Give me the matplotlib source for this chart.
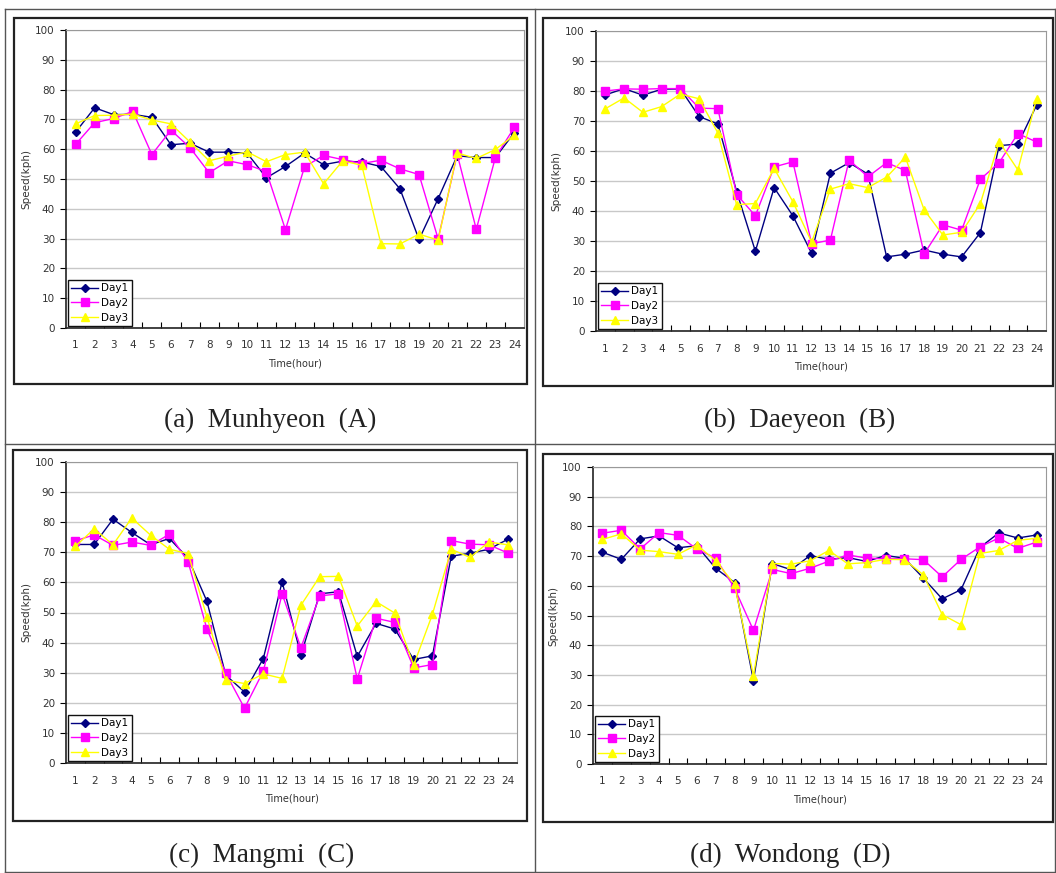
import matplotlib.pyplot as plt
from matplotlib.patches import Rectangle
from matplotlib.lines import Line2D

hours = [1, 2, 3, 4, 5, 6, 7, 8, 9, 10, 11, 12,
         13, 14, 15, 16, 17, 18, 19, 20, 21, 22, 23, 24]
day_labels = ["Day1", "Day2", "Day3"]

# (a) Munhyeon
munhyeon_day1 = [65.7, 73.9, 71.6, 71.7, 70.7, 61.5, 62.0, 59.0, 59.0, 58.6, 50.4, 54.2,
                 58.7, 54.8, 56.0, 55.7, 54.2, 46.7, 29.7, 43.4, 57.8, 57.2, 57.2, 65.6]
munhyeon_day2 = [61.6, 68.9, 70.3, 72.7, 58.2, 66.4, 60.5, 52.1, 56.1, 54.8, 52.5, 33.0,
                 54.1, 57.9, 56.5, 55.2, 56.3, 53.4, 51.5, 29.9, 58.3, 33.1, 57.2, 67.4]
munhyeon_day3 = [68.5, 71.3, 71.4, 71.8, 69.8, 68.5, 62.4, 56.1, 57.7, 59.1, 55.8, 58.2,
                 59.0, 48.4, 56.1, 54.6, 28.3, 28.2, 31.5, 29.5, 58.7, 56.9, 59.9, 64.7]

# (b) Daeyeon
daeyeon_day1 = [78.7, 80.8, 78.6, 80.6, 80.7, 71.5, 69.0, 46.5, 26.6, 47.8, 38.4, 25.9,
                52.6, 56.1, 52.3, 24.7, 25.6, 27.0, 25.6, 24.7, 32.8, 61.8, 62.3, 75.3]
daeyeon_day2 = [80.0, 80.7, 80.6, 80.8, 80.8, 74.3, 74.1, 45.5, 38.4, 54.7, 56.4, 29.1,
                30.3, 57.0, 51.4, 56.1, 53.5, 25.7, 35.4, 33.6, 50.6, 56.1, 65.8, 63.0]
daeyeon_day3 = [74.1, 77.7, 72.9, 74.8, 79.0, 77.4, 66.0, 42.1, 42.5, 54.2, 43.1, 29.6,
                47.3, 49.1, 47.8, 51.3, 57.9, 40.4, 32.0, 32.9, 42.5, 63.1, 53.7, 77.5]

# (c) Mangmi
mangmi_day1 = [72.6, 72.6, 81.0, 76.6, 72.5, 74.6, 68.0, 53.7, 29.2, 23.6, 34.7, 60.2,
               35.8, 56.2, 56.9, 35.4, 46.4, 44.5, 34.4, 35.6, 68.7, 69.7, 71.0, 74.3]
mangmi_day2 = [73.8, 75.8, 72.3, 73.4, 72.3, 76.0, 66.8, 44.5, 29.9, 18.2, 30.5, 56.2,
               38.3, 55.5, 56.2, 27.9, 48.1, 46.7, 31.6, 32.7, 73.9, 72.7, 72.5, 69.8]
mangmi_day3 = [72.0, 77.8, 72.5, 81.4, 75.7, 71.0, 69.6, 48.5, 27.5, 26.4, 29.6, 28.1,
               52.4, 61.9, 62.0, 45.5, 53.6, 49.8, 32.5, 49.4, 71.0, 68.3, 73.4, 72.5]

# (d) Wondong
wondong_day1 = [71.3, 68.9, 75.8, 76.8, 72.8, 73.5, 65.9, 61.1, 28.1, 67.5, 65.4, 70.2,
                68.9, 69.5, 68.2, 70.2, 69.3, 62.6, 55.6, 58.7, 72.9, 77.8, 76.1, 77.1]
wondong_day2 = [77.7, 78.7, 72.4, 77.9, 77.0, 72.4, 69.3, 59.2, 45.0, 65.5, 64.1, 65.9,
                68.3, 70.4, 69.3, 69.1, 69.1, 68.8, 63.0, 68.9, 73.1, 76.1, 72.6, 74.7]
wondong_day3 = [75.6, 77.5, 72.0, 71.5, 70.6, 73.8, 68.4, 60.5, 29.7, 67.5, 67.3, 68.4,
                71.9, 67.4, 67.8, 68.9, 68.8, 63.7, 50.3, 46.9, 70.9, 71.9, 75.3, 76.0]

captions = ["(a)  Munhyeon  (A)", "(b)  Daeyeon  (B)", "(c)  Mangmi  (C)", "(d)  Wondong  (D)"]

W, H = 1056, 873
SANS = ["Liberation Sans Narrow", "DejaVu Sans"]
SERIF = ["Liberation Serif", "DejaVu Serif"]

styles = [
    dict(color="#000080", marker="D", ms=4.5),
    dict(color="#FF00FF", marker="s", ms=6),
    dict(color="#FFFF00", marker="^", ms=6),
]


def fig_rect(l, t, r, b):
    return [l / W, 1 - b / H, (r - l) / W, (b - t) / H]


fig = plt.figure(figsize=(W / 100, H / 100), dpi=100)

# table grid
for x0, y0, x1, y1 in [(5, 9, 1055, 9), (5, 872, 1055, 872), (5, 9, 5, 872),
                       (1055, 9, 1055, 872), (535, 9, 535, 872), (5, 444, 1055, 444)]:
    fig.add_artist(Line2D([x0 / W, x1 / W], [1 - y0 / H, 1 - y1 / H],
                          color="#555555", lw=1.0))

panels = [
    dict(box=(14, 18, 527, 384), ax=(66, 30, 524, 328), cap=(270, 420),
         data=(munhyeon_day1, munhyeon_day2, munhyeon_day3)),
    dict(box=(543, 18, 1053, 386), ax=(596, 31, 1046, 331), cap=(800, 420),
         data=(daeyeon_day1, daeyeon_day2, daeyeon_day3)),
    dict(box=(13, 450, 527, 821), ax=(66, 462, 517, 763), cap=(262, 855),
         data=(mangmi_day1, mangmi_day2, mangmi_day3)),
    dict(box=(543, 454, 1053, 822), ax=(593, 467, 1046, 764), cap=(790, 855),
         data=(wondong_day1, wondong_day2, wondong_day3)),
]

for p, caption in zip(panels, captions):
    l, t, r, b = p["box"]
    fig.add_artist(Rectangle((l / W, 1 - b / H), (r - l) / W, (b - t) / H,
                             transform=fig.transFigure, fill=False,
                             edgecolor="#222222", lw=1.6))

    ax = fig.add_axes(fig_rect(*p["ax"]))
    for series, label, st in zip(p["data"], day_labels, styles):
        ax.plot(hours, series, lw=1.0, color=st["color"], marker=st["marker"],
                ms=st["ms"], mec=st["color"], mfc=st["color"], label=label)

    ax.set_xlim(0.5, 24.5)
    ax.set_ylim(0, 100)
    ax.set_yticks(range(0, 101, 10))
    ax.set_xticks(hours)
    ax.set_xticks([h + 0.5 for h in hours[:-1]], minor=True)
    ax.tick_params(axis="x", which="major", length=0, pad=9, labelsize=7.5)
    ax.tick_params(axis="x", which="minor", direction="in", length=4, width=0.8)
    ax.tick_params(axis="y", direction="out", length=4, width=0.8, pad=4, labelsize=7.5)
    for lab in ax.get_xticklabels() + ax.get_yticklabels():
        lab.set_family(SANS)
        lab.set_color("#333333")
    ax.grid(axis="y", color="#c8c8c8", lw=1.0)
    ax.set_axisbelow(True)
    ax.spines["left"].set_color("#222222")
    ax.spines["bottom"].set_color("#222222")
    ax.spines["left"].set_linewidth(1.2)
    ax.spines["bottom"].set_linewidth(1.2)
    ax.spines["top"].set_color("#999999")
    ax.spines["right"].set_color("#999999")

    ax.set_xlabel("Time(hour)", fontsize=7, family=SANS, labelpad=6, color="#333333")
    ax.set_ylabel("Speed(kph)", fontsize=7.5, family=SANS, labelpad=3, color="#333333")

    leg = ax.legend(loc="lower left", borderaxespad=0.15, fancybox=False,
                    framealpha=1, edgecolor="#111111", handlelength=2.6,
                    handletextpad=0.3, borderpad=0.35, labelspacing=0.45,
                    prop={"family": SANS, "size": 7.5})
    leg.get_frame().set_linewidth(1.0)

    fig.text(p["cap"][0] / W, 1 - p["cap"][1] / H, caption, ha="center",
             va="center", fontsize=19.5, family=SERIF, color="#222222")

fig.savefig("out.png", dpi=100)
